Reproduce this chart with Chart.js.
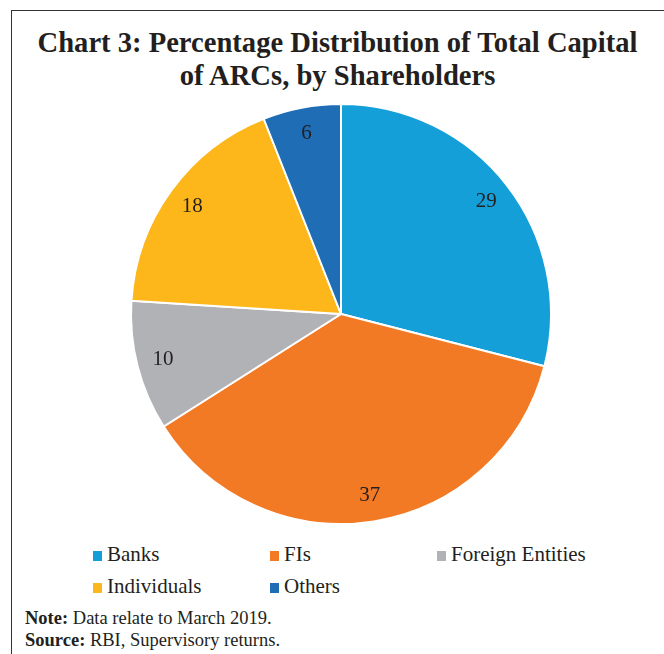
<!DOCTYPE html>
<html>
<head>
<meta charset="utf-8">
<script src="https://cdn.jsdelivr.net/npm/chart.js@4/dist/chart.umd.min.js"></script>
<style>
  body { margin: 0; background: #fff; width: 664px; height: 654px; overflow: hidden; position: relative; font-family: "Liberation Serif", serif; color: #231f20; }
  #frame { position: absolute; left: 11px; top: 10px; width: 700px; height: 700px; border-left: 1.5px solid #333; border-top: 1.5px solid #333; }
  #title { position: absolute; left: 11px; width: 653px; top: 26px; text-align: center; font-weight: bold; font-size: 28.6px; line-height: 33px; }
  #wrap { position: absolute; left: 126px; top: 99px; width: 430px; height: 430px; }
  .leg { position: absolute; font-size: 21px; line-height: 22px; white-space: nowrap; }
  .leg span { display: inline-block; width: 9px; height: 10px; margin-right: 5px; }
  #note { position: absolute; left: 25px; top: 607px; font-size: 18.5px; line-height: 22px; }
</style>
</head>
<body>
<div id="frame"></div>
<div id="title">Chart 3: Percentage Distribution of Total Capital<br>of ARCs, by Shareholders</div>
<div id="wrap"><canvas id="pieChart"></canvas></div>
<div id="legend"></div>
<div id="note"><b>Note:</b> Data relate to March 2019.<br><b>Source:</b> RBI, Supervisory returns.</div>
<script>
const labels = ['Banks', 'FIs', 'Foreign Entities', 'Individuals', 'Others'];
const shares = [29, 37, 10, 18, 6];
const colours = ['#149fd9', '#f37a24', '#b1b2b5', '#fdb71a', '#1e6db5'];

// legend laid out in three columns like the original
const legendSpots = [[93, 543], [270, 543], [437, 543], [93, 575], [270, 575]];
let legend = document.getElementById('legend');
labels.forEach((name, i) => {
    let d = document.createElement('div');
    d.className = 'leg';
    d.style.left = legendSpots[i][0] + 'px';
    d.style.top = legendSpots[i][1] + 'px';
    d.innerHTML = '<span style="background:' + colours[i] + '"></span>' + name;
    legend.appendChild(d);
});

const sliceLabels = {
    id: 'sliceLabels',
    afterDatasetsDraw(chart) {
        const ctx = chart.ctx;
        const meta = chart.getDatasetMeta(0);
        ctx.save();
        ctx.font = '21px "Liberation Serif"';
        ctx.fillStyle = '#231f20';
        ctx.textAlign = 'center';
        ctx.textBaseline = 'middle';
        meta.data.forEach((arc, i) => {
            const p = arc.getProps(['x', 'y', 'startAngle', 'endAngle', 'outerRadius'], true);
            const mid = (p.startAngle + p.endAngle) / 2;
            const r = p.outerRadius * 0.875;
            ctx.fillText(shares[i], p.x + Math.cos(mid) * r, p.y + Math.sin(mid) * r);
        });
        ctx.restore();
    }
};

new Chart(document.getElementById('pieChart').getContext('2d'), {
    type: 'pie',
    data: {
        labels: labels,
        datasets: [{
            data: shares,
            backgroundColor: colours,
            borderColor: '#ffffff',
            borderWidth: 2
        }]
    },
    options: {
        responsive: true,
        maintainAspectRatio: false,
        animation: false,
        layout: { padding: 4 },
        plugins: {
            legend: { display: false },
            tooltip: { enabled: false }
        }
    },
    plugins: [sliceLabels]
});
</script>
</body>
</html>
